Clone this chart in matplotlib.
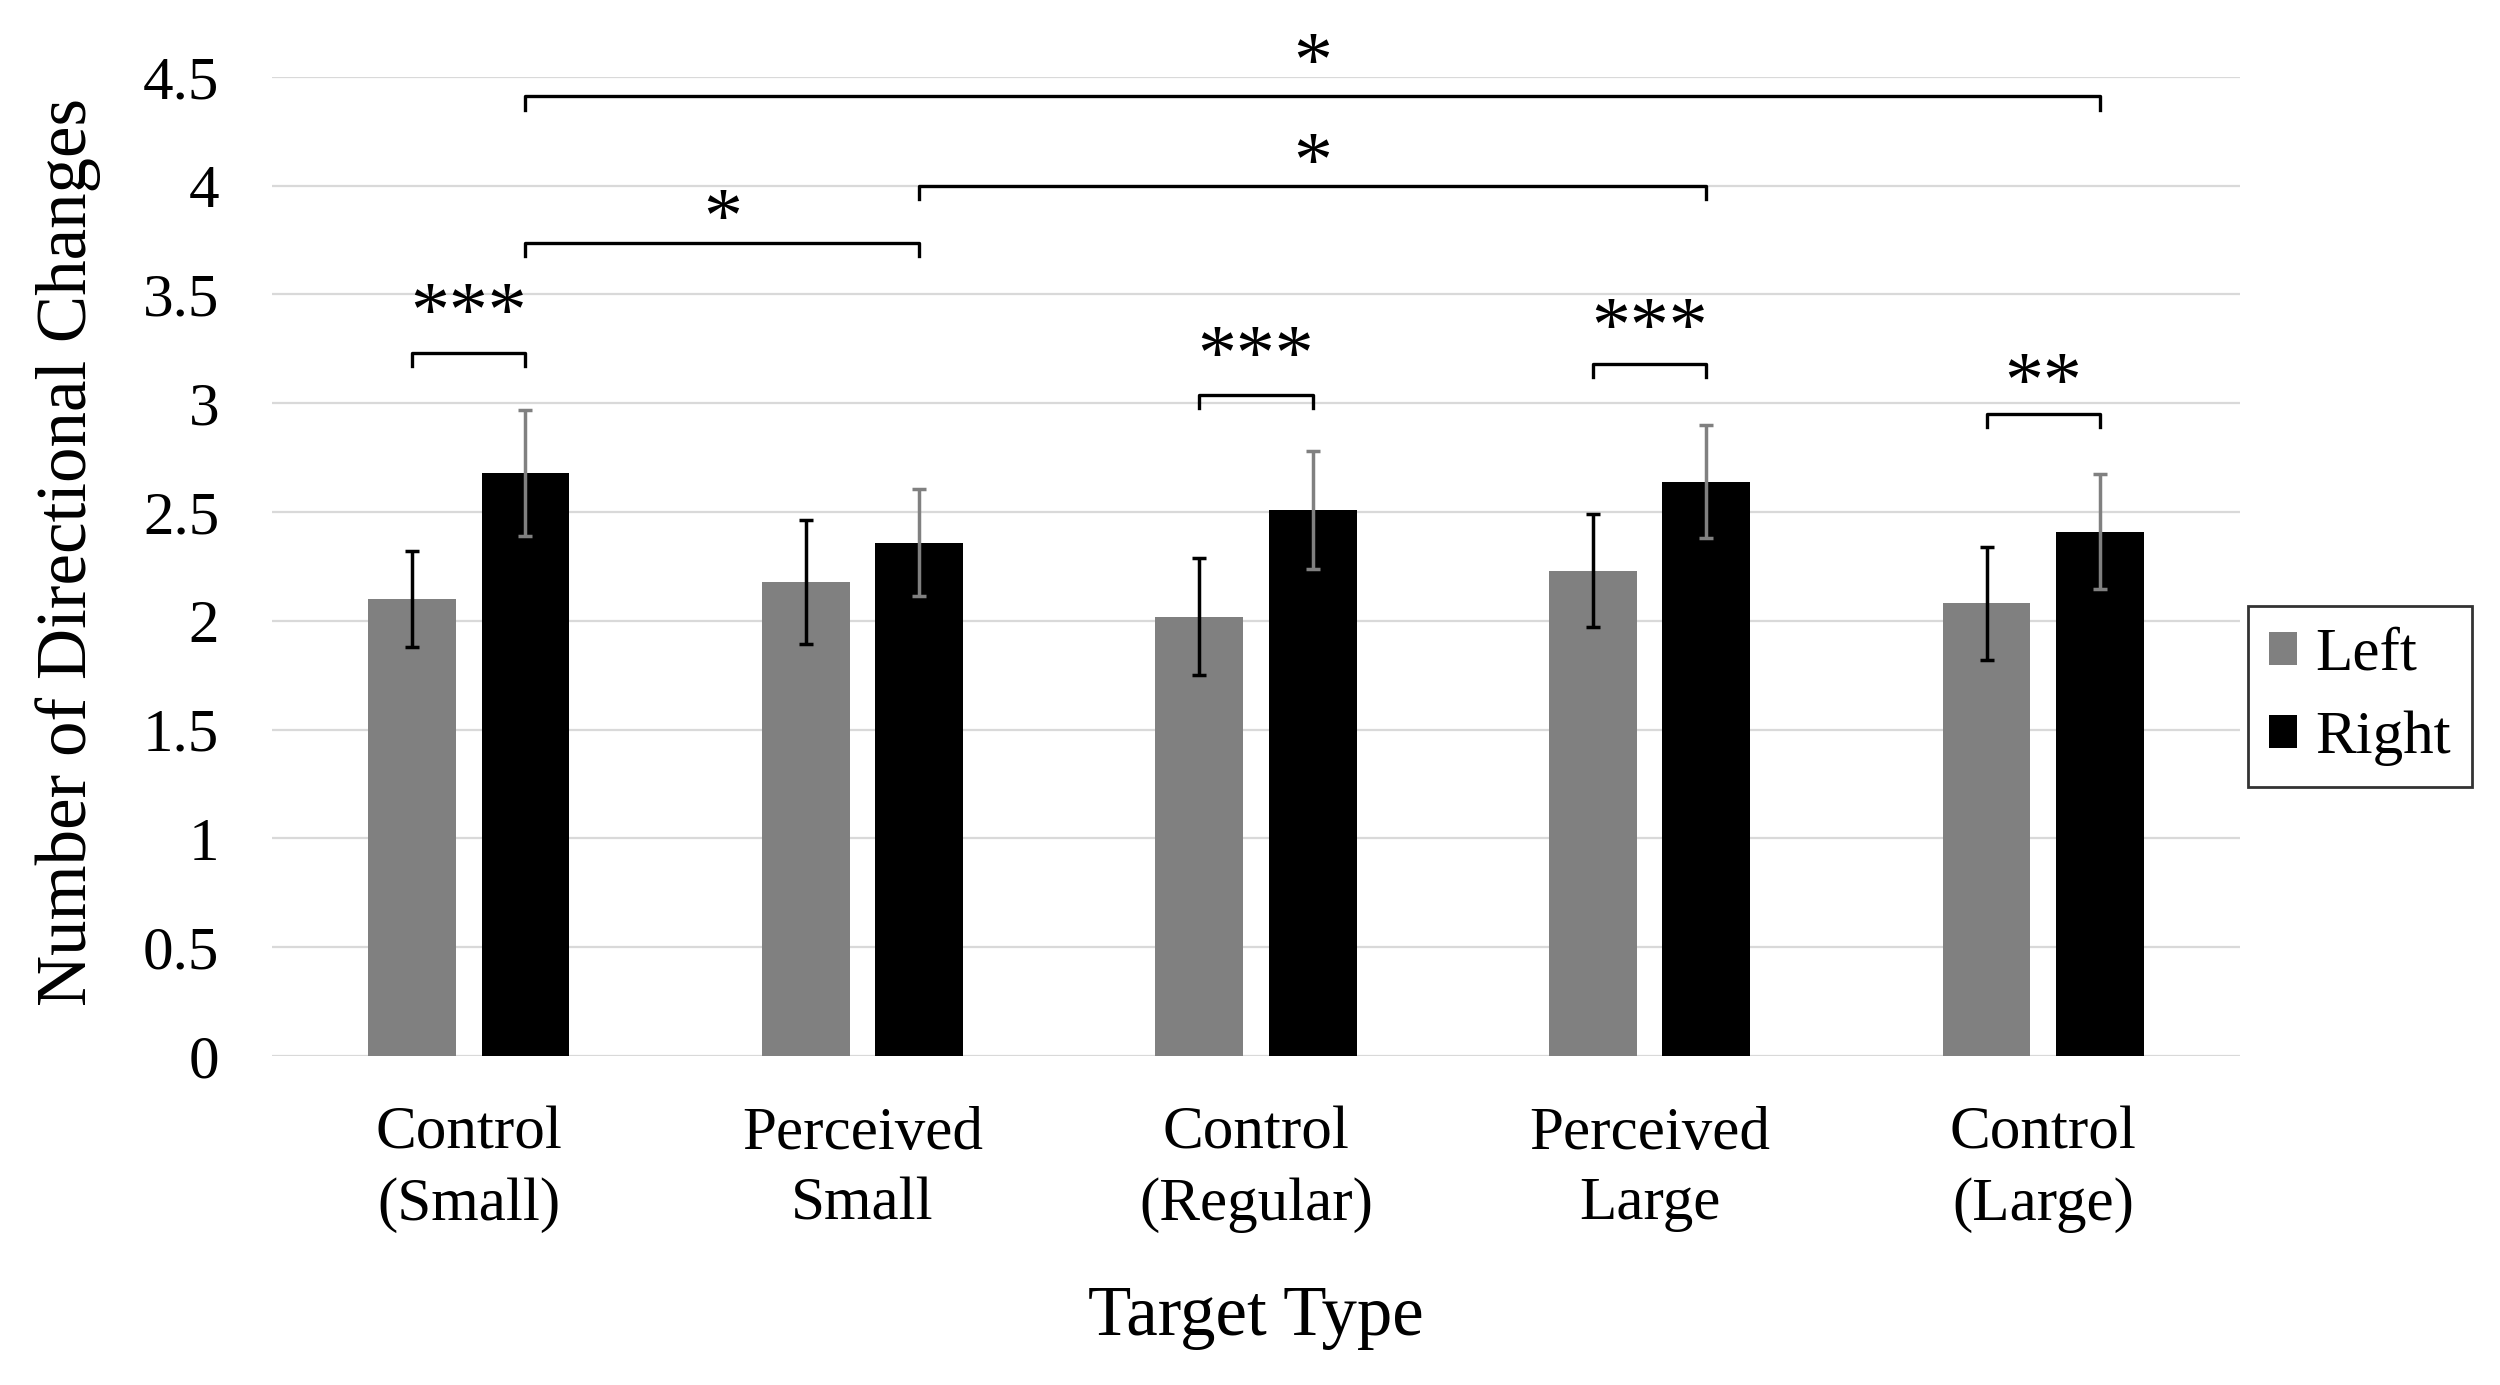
import numpy as np
import matplotlib.pyplot as plt

plt.rcParams['font.family'] = ['Liberation Serif', 'DejaVu Serif']

groups = ['Control\n(Small)', 'Perceived\nSmall', 'Control\n(Regular)', 'Perceived\nLarge', 'Control\n(Large)']
left_mean = [2.10, 2.18, 2.02, 2.23, 2.08]
left_err = [0.22, 0.285, 0.27, 0.26, 0.26]
right_mean = [2.68, 2.36, 2.51, 2.64, 2.41]
right_err = [0.29, 0.245, 0.27, 0.26, 0.265]

# brackets: (x1, x2, y, label) with x as bar positions (group index, side)
pair_brackets = [(0, 3.23, 3.40, '***'), (2, 3.04, 3.20, '***'), (3, 3.18, 3.33, '***'), (4, 2.95, 3.08, '**')]
long_brackets = [(0, 1, 3.735, 3.83, '*'), (1, 3, 4.00, 4.09, '*'), (0, 4, 4.41, 4.55, '*')]

x = np.arange(len(groups))
w = 0.223
off = 0.144

fig = plt.figure(figsize=(25, 13.85), dpi=100)
ax = fig.add_axes([0.1088, 0.2375, 0.7872, 0.707])

ax.bar(x - off, left_mean, w, color='#808080', label='Left', zorder=3)
ax.bar(x + off, right_mean, w, color='#000000', label='Right', zorder=3)
ax.errorbar(x - off, left_mean, yerr=left_err, fmt='none', ecolor='#000000',
            elinewidth=2.5, capsize=4.7, capthick=2.5, zorder=4)
ax.errorbar(x + off, right_mean, yerr=right_err, fmt='none', ecolor='#808080',
            elinewidth=2.5, capsize=4.7, capthick=2.5, zorder=4)

ax.set_xlim(-0.5, 4.5)
ax.set_ylim(0, 4.5)
ax.set_yticks(np.arange(0, 4.51, 0.5))
ax.set_yticklabels(['0', '0.5', '1', '1.5', '2', '2.5', '3', '3.5', '4', '4.5'])
ax.set_xticks(x)
ax.set_xticklabels(groups, linespacing=1.36)
ax.tick_params(axis='y', length=0, labelsize=44, pad=38)
ax.tick_params(axis='x', length=0, labelsize=44, pad=36)
ax.grid(axis='y', color='#d9d9d9', linewidth=1.6, zorder=0)
for s in ax.spines.values():
    s.set_visible(False)

ax.set_xlabel('Target Type', fontsize=51, labelpad=38)
ax.set_ylabel('Number of Directional Changes', fontsize=51)
ax.yaxis.set_label_coords(-0.087, 0.515)

lw = 2.4
leg = 0.06
for g, y, ty, lab in pair_brackets:
    xa, xb = g - off, g + off
    ax.plot([xa, xa, xb, xb], [y - leg, y, y, y - leg], color='black', lw=lw, clip_on=False, zorder=5)
    ax.text(g, ty, lab, fontsize=56, ha='center', va='center', clip_on=False)

for g1, g2, y, ty, lab in long_brackets:
    xa, xb = g1 + off, g2 + off
    ax.plot([xa, xa, xb, xb], [y - leg, y, y, y - leg], color='black', lw=lw, clip_on=False, zorder=5)
    ax.text((xa + xb) / 2, ty, lab, fontsize=56, ha='center', va='center', clip_on=False)

lg = ax.legend(loc='center left', bbox_to_anchor=(1.004, 0.367), fontsize=44, frameon=True,
               fancybox=False, edgecolor='black', handlelength=0.45, handleheight=0.45,
               handletextpad=0.3, borderpad=0.35, labelspacing=0.45, borderaxespad=0)
lg.get_frame().set_linewidth(2)

fig.savefig('out.png', dpi=100)
